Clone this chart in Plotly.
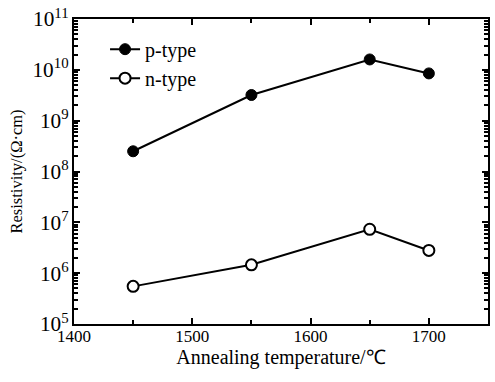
import plotly.graph_objects as go

temps = [1450, 1550, 1650, 1700]
p_type = [2.5e8, 3.2e9, 1.6e10, 8.5e9]
n_type = [5.5e5, 1.46e6, 7.3e6, 2.8e6]
x_ticks = [1400, 1500, 1600, 1700]

FAM = "Liberation Serif, Times New Roman, serif"
font = dict(family=FAM, size=17, color="black")
xtitle_font = dict(family=FAM, size=20, color="black")
ytitle_font = dict(family=FAM, size=16.5, color="black")
legend_font = dict(family=FAM, size=20, color="black")

fig = go.Figure()
fig.add_trace(go.Scatter(
    x=temps, y=p_type, mode="lines+markers", name="p-type",
    line=dict(color="black", width=2),
    marker=dict(symbol="circle", size=11, color="black", line=dict(color="black", width=1)),
))
fig.add_trace(go.Scatter(
    x=temps, y=n_type, mode="lines+markers", name="n-type",
    line=dict(color="black", width=2),
    marker=dict(symbol="circle", size=11, color="white", line=dict(color="black", width=2)),
))

fig.update_layout(
    width=495, height=382,
    margin=dict(l=74, r=5, t=16, b=58),
    paper_bgcolor="white", plot_bgcolor="white",
    font=font,
    showlegend=True,
    legend=dict(x=0.075, y=0.965, xanchor="left", yanchor="top",
                bgcolor="rgba(0,0,0,0)", font=legend_font, tracegroupgap=0),
)
fig.update_xaxes(
    range=[1400, 1750], tickvals=x_ticks, ticks="inside", ticklen=6, tickwidth=1.5,
    showline=True, linecolor="black", linewidth=2, mirror="ticks", showgrid=False,
    zeroline=False, tickcolor="black", ticklabelstandoff=-4,
    minor=dict(ticks="inside", dtick=50, ticklen=4, tickcolor="black", showgrid=False),
    title=dict(text="Annealing temperature/\u2103", font=xtitle_font, standoff=2),
    tickfont=font,
)
fig.update_yaxes(
    type="log", range=[5, 11], dtick=1, exponentformat="power", ticks="inside",
    ticklen=6, tickwidth=1.5, tickcolor="black",
    showline=True, linecolor="black", linewidth=2, mirror="ticks", showgrid=False,
    zeroline=False,
    minor=dict(ticks="inside", dtick="D1", ticklen=4, tickcolor="black", showgrid=False),
    title=dict(text="Resistivity/(\u03a9\u00b7cm)", font=ytitle_font, standoff=6),
    tickfont=font,
)

fig.write_html("out.html")
